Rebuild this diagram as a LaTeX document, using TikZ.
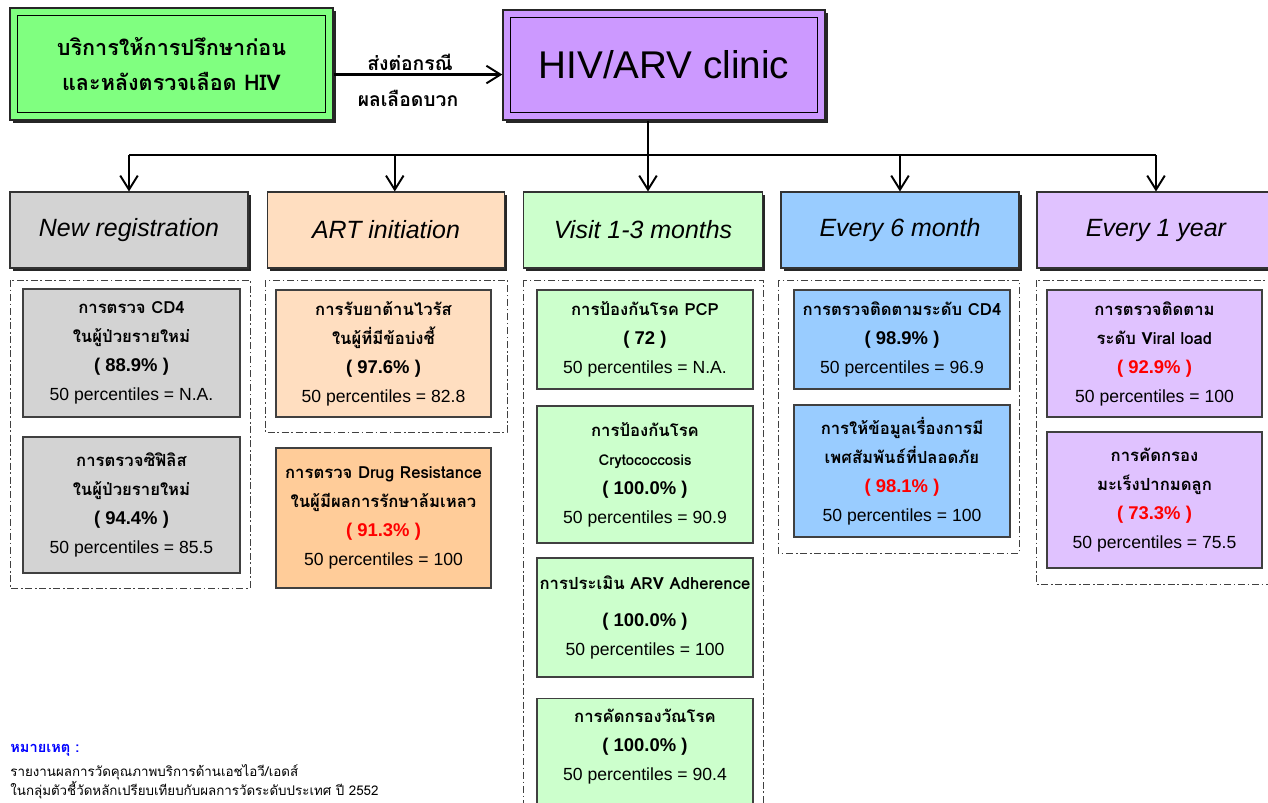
\documentclass[tikz,border=0pt]{standalone}
\usepackage{fontspec}
\setmainfont{Liberation Sans}
\newfontfamily\lat{Liberation Sans}
\newfontfamily\thai[Script=Thai]{Loma}
\usetikzlibrary{arrows.meta,shadows}

\definecolor{cgreen}{HTML}{80FF80}
\definecolor{cpurple}{HTML}{CC99FF}
\definecolor{cgray}{HTML}{D3D3D3}
\definecolor{cpeach}{HTML}{FFDEC0}
\definecolor{corange}{HTML}{FFCC99}
\definecolor{cmint}{HTML}{CCFFCC}
\definecolor{cblue}{HTML}{99CCFF}
\definecolor{clilac}{HTML}{E0C2FF}

\newcommand{\pct}[1]{{\lat\bfseries\fontsize{10.5}{16.5}\selectfont ( #1 )}}
\newcommand{\pcr}[1]{{\lat\bfseries\fontsize{10.5}{16.5}\selectfont\color{red}( #1 )}}
\newcommand{\pcl}[1]{{\lat\mdseries\fontsize{10}{16.5}\selectfont 50 percentiles = #1}}

\tikzset{
  wh/.style 2 args={minimum width=#1*0.02cm, minimum height=#2*0.02cm},
  topbox/.style={draw=black!85, line width=0.8pt, align=center, inner sep=0pt,
    drop shadow={shadow xshift=1.7pt, shadow yshift=-1.7pt, fill=black, opacity=0.85}},
  head/.style={draw=black!80, line width=0.6pt, inner sep=0pt,
    font=\lat\itshape\fontsize{14.2}{16}\selectfont,
    drop shadow={shadow xshift=1.6pt, shadow yshift=-1.6pt, fill=black, opacity=0.85}},
  cell/.style={draw=black!75, line width=0.8pt, align=center, inner sep=0pt,
    font=\thai\bfseries\fontsize{9.5}{16.5}\selectfont},
  grp/.style={draw=black!75, line width=0.5pt, dash pattern=on 4pt off 1.5pt on 1pt off 1.5pt},
  link/.style={line width=1.3pt, -{Straight Barb[length=8pt,width=10pt,line width=1.1pt]}},
  lbl/.style={font=\thai\bfseries\fontsize{11}{13}\selectfont, inner sep=1pt},
}

\begin{document}
\begin{tikzpicture}[x=0.02cm, y=-0.02cm]
\useasboundingbox (0,0) rectangle (1268,802);

% Top row
\node[topbox, fill=cgreen, wh={323}{112}, font=\thai\bfseries\fontsize{12.3}{19.5}\selectfont] (tleft) at (171.5,64)
  {บริการให้การปรึกษาก่อน\\และหลังตรวจเลือด HIV};
\draw[line width=0.6pt] ([shift={(8,8)}]tleft.north west) rectangle ([shift={(-8,-8)}]tleft.south east);

\node[topbox, fill=cpurple, wh={322}{110}, font=\lat\fontsize{22}{26}\selectfont] (hiv) at (664,65) {HIV/ARV clinic};
\draw[line width=0.6pt] ([shift={(8,8)}]hiv.north west) rectangle ([shift={(-8,-8)}]hiv.south east);

\draw[link] ([yshift=-6pt]tleft.east) -- ([yshift=-6pt]tleft.east -| hiv.west);
\node[lbl] (refer1) at (410,62) {ส่งต่อกรณี};
\node[lbl] (refer2) at (408,98) {ผลเลือดบวก};

% Headers
\node[head, fill=cgray,   wh={238}{76}] (h1) at (129,230)  {New registration};
\node[head, fill=cpeach,  wh={237}{76}] (h2) at (386,230)  {ART initiation};
\node[head, fill=cmint,   wh={239}{76}] (h3) at (643,230)  {Visit 1-3 months};
\node[head, fill=cblue,   wh={238}{76}] (h4) at (900,230)  {Every 6 month};
\node[head, fill=clilac,  wh={238}{76}] (h5) at (1156,230) {Every 1 year};

% Tree
\coordinate (bus) at (648,155);
\draw[line width=1.3pt] (hiv.south -| bus) -- (bus);
\draw[line width=1.6pt] (h1.north |- bus) -- (h5.north |- bus);
\draw[link] (h1.north |- bus) -- (h1.north);
\draw[link] ([xshift=5pt]h2.north |- bus) -- ([xshift=5pt]h2.north);
\draw[link] (bus) -- (bus |- h3.north);
\draw[link] (h4.north |- bus) -- (h4.north);
\draw[link] (h5.north |- bus) -- (h5.north);

% Groups
\draw[grp] (10,280) rectangle (250,588);
\draw[grp] (265,280) rectangle (507,432);
\draw[grp] (523,280) rectangle (763,815);
\draw[grp] (778,280) rectangle (1019,553);
\draw[grp] (1036,280) rectangle (1280,584);

% New registration
\node[cell, fill=cgray, wh={217}{128}] (c11) at (131.5,353)
  {การตรวจ CD4\\ในผู้ป่วยรายใหม่\\\pct{88.9\%}\\\pcl{N.A.}};
\node[cell, fill=cgray, wh={217}{136}] (c12) at (131.5,505)
  {การตรวจซิฟิลิส\\ในผู้ป่วยรายใหม่\\\pct{94.4\%}\\\pcl{85.5}};

% ART initiation
\node[cell, fill=cpeach, wh={215}{127}] (c21) at (383.5,353.5)
  {การรับยาต้านไวรัส\\ในผู้ที่มีข้อบ่งชี้\\\pct{97.6\%}\\\pcl{82.8}};
\node[cell, fill=corange, wh={215}{140}] (c22) at (383.5,518)
  {การตรวจ Drug Resistance\\ในผู้มีผลการรักษาล้มเหลว\\\pcr{91.3\%}\\\pcl{100}};

% Visit 1-3 months
\node[cell, fill=cmint, wh={216}{99}] (c31) at (645,339.5)
  {การป้องกันโรค PCP\\\pct{72}\\\pcl{N.A.}};
\node[cell, fill=cmint, wh={216}{137}] (c32) at (645,474.5)
  {การป้องกันโรค\\{\fontsize{8.5}{16.5}\selectfont Crytococcosis}\\\pct{100.0\%}\\\pcl{90.9}};
\node[cell, fill=cmint, wh={216}{119}] (c33) at (645,617.5)
  {การประเมิน ARV Adherence\\[5pt]\pct{100.0\%}\\\pcl{100}};
\node[cell, fill=cmint, wh={216}{132}, anchor=north] (c34) at (645,698) {};
\node[cell, draw=none, anchor=north] (c34t) at ([yshift=-6pt]c34.north)
  {การคัดกรองวัณโรค\\\pct{100.0\%}\\\pcl{90.4}};

% Every 6 month
\node[cell, fill=cblue, wh={216}{99}] (c41) at (902,339.5)
  {การตรวจติดตามระดับ CD4\\\pct{98.9\%}\\\pcl{96.9}};
\node[cell, fill=cblue, wh={216}{132}] (c42) at (902,471)
  {การให้ข้อมูลเรื่องการมี\\เพศสัมพันธ์ที่ปลอดภัย\\\pcr{98.1\%}\\\pcl{100}};

% Every 1 year
\node[cell, fill=clilac, wh={215}{127}] (c51) at (1154.5,353.5)
  {การตรวจติดตาม\\ระดับ Viral load\\\pcr{92.9\%}\\\pcl{100}};
\node[cell, fill=clilac, wh={215}{136}] (c52) at (1154.5,500)
  {การคัดกรอง\\มะเร็งปากมดลูก\\\pcr{73.3\%}\\\pcl{75.5}};

% Note
\node[anchor=west, inner sep=0pt, text=blue, font=\thai\bfseries\fontsize{8.3}{10}\selectfont] (note) at (10,750) {หมายเหตุ :};
\node[anchor=north west, align=left, inner sep=0pt, font=\thai\fontsize{7.6}{9.2}\selectfont] (notebody) at (10,764)
  {รายงานผลการวัดคุณภาพบริการด้านเอชไอวี/เอดส์\\ในกลุ่มตัวชี้วัดหลักเปรียบเทียบกับผลการวัดระดับประเทศ ปี 2552};

\end{tikzpicture}
\end{document}
